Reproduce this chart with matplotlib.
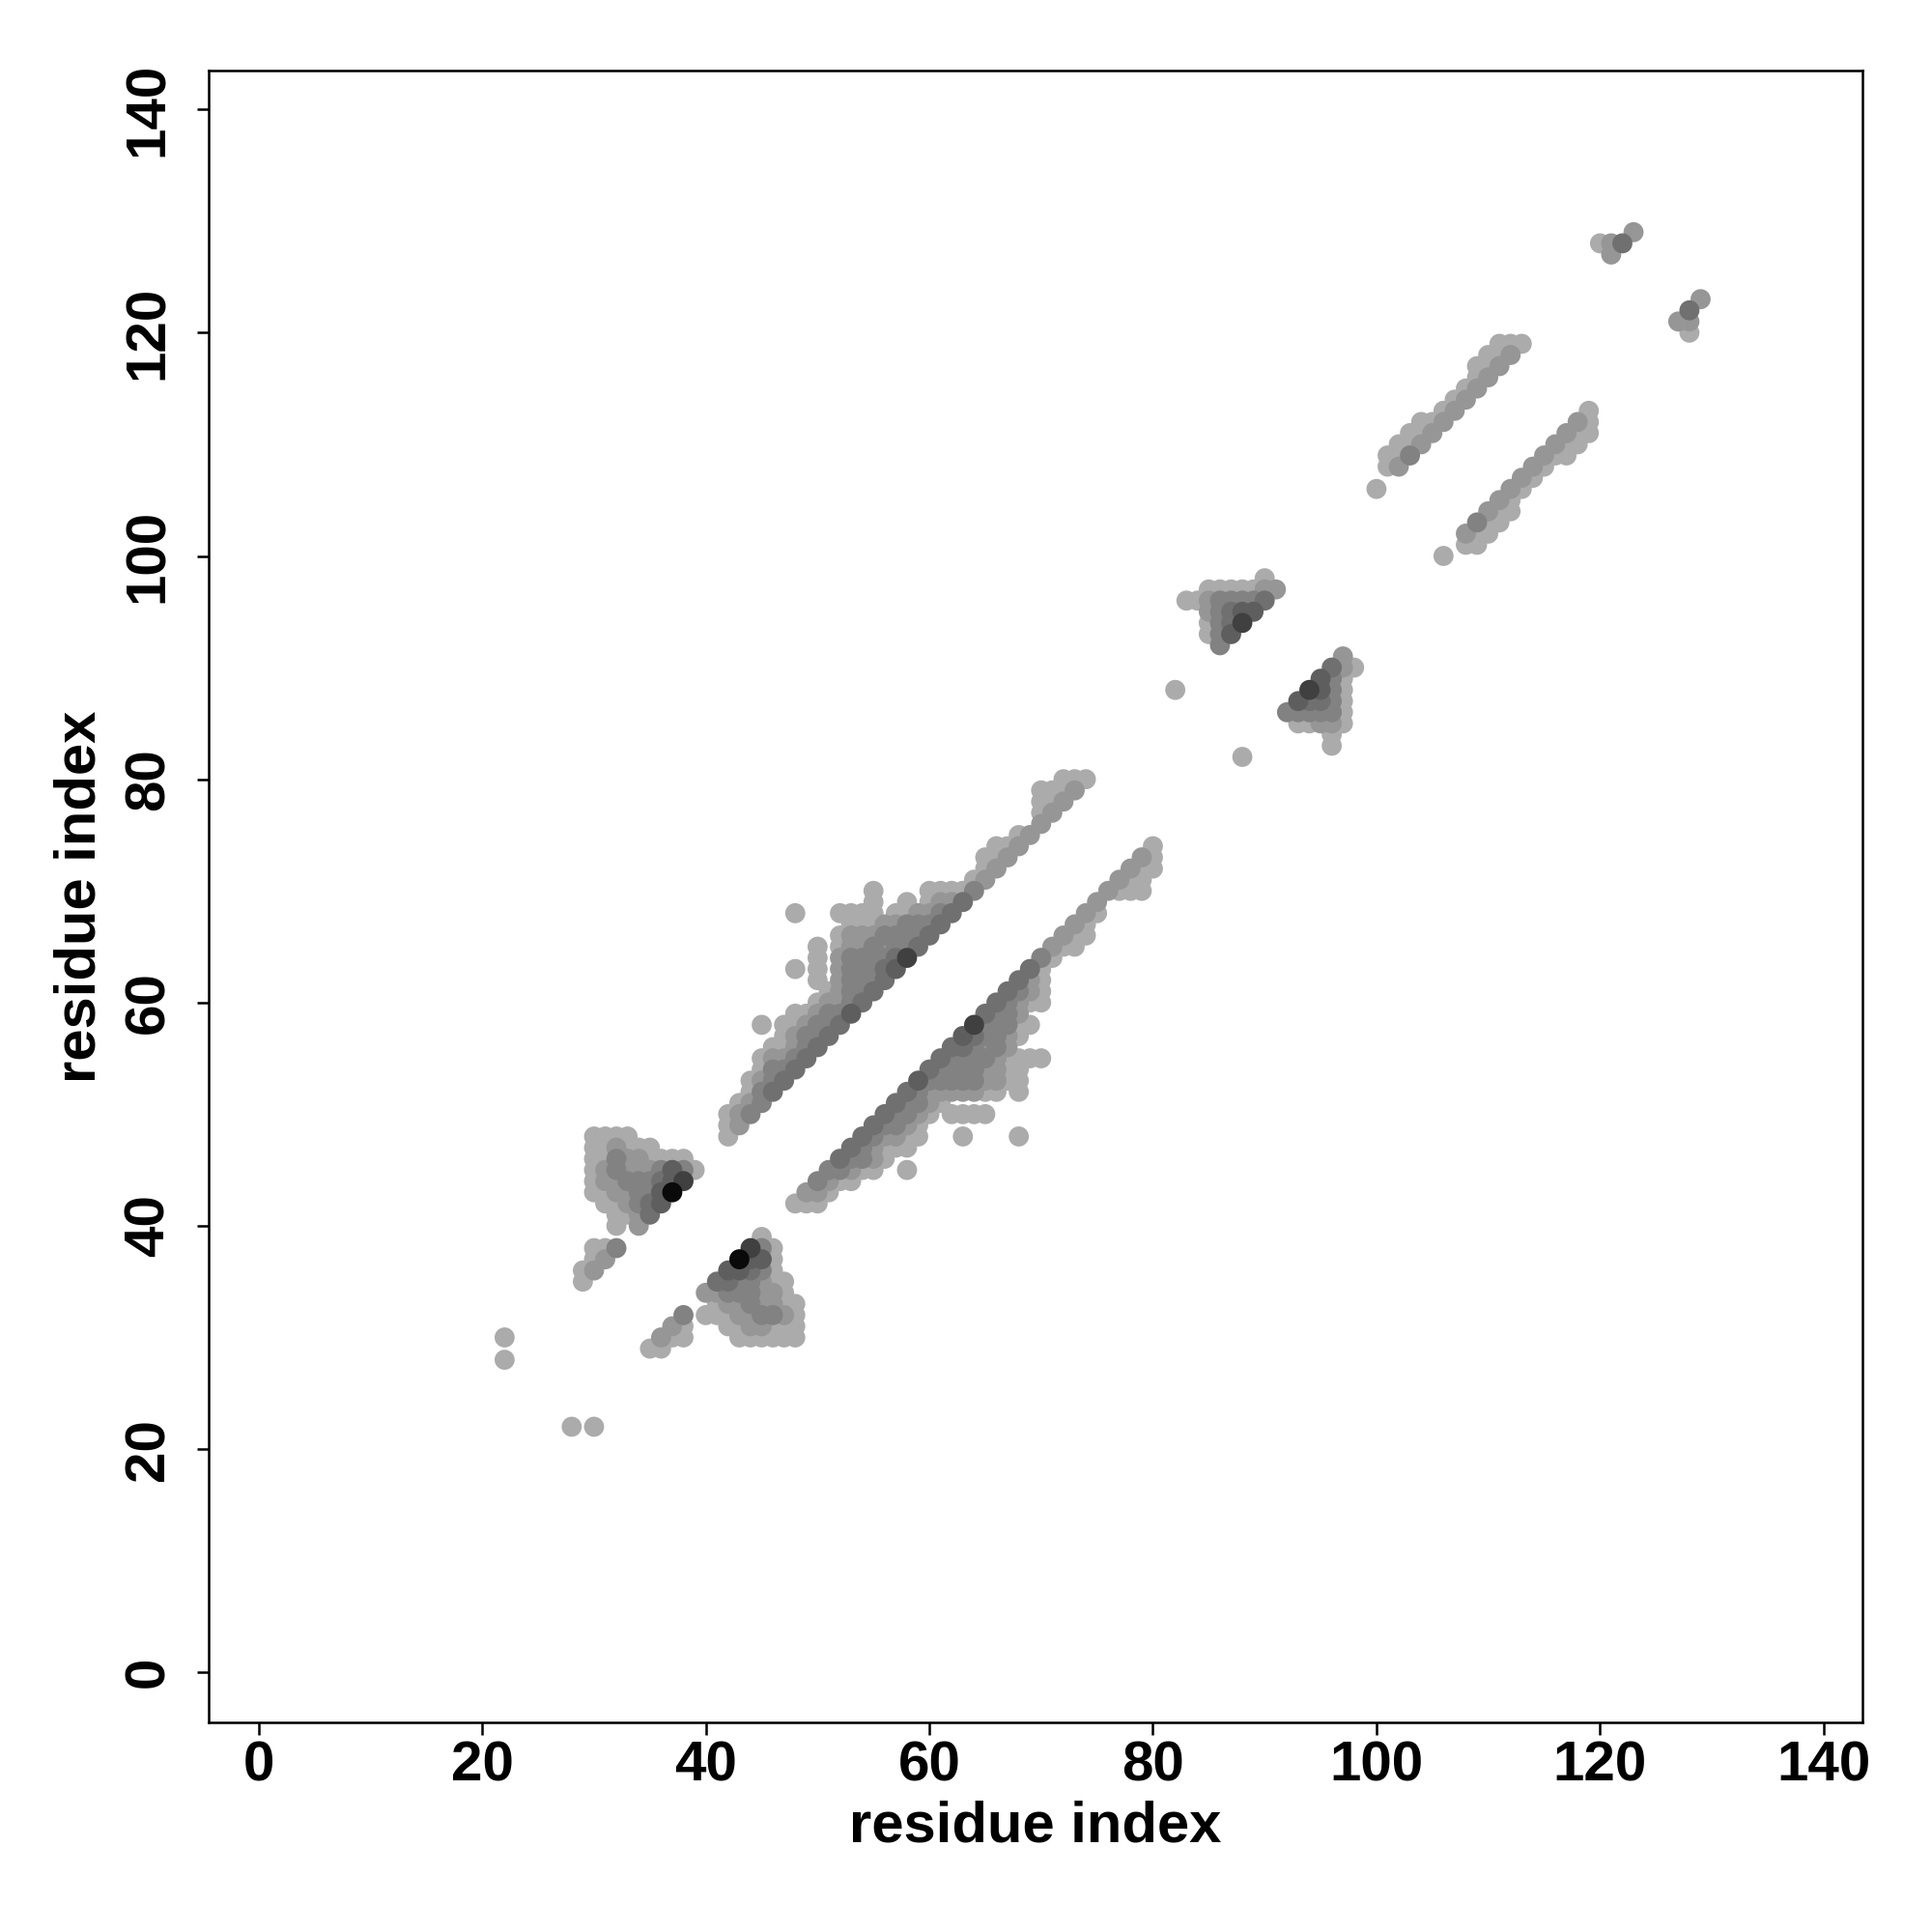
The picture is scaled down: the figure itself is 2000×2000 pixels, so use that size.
import matplotlib
matplotlib.use("Agg")
import matplotlib.pyplot as plt

# contact map, upper triangle only (y > x); the lower triangle is the mirror.
# each row: (y, first x, gray levels along x; '.' = no contact)
# level 1 = light gray ... 7 = almost black
rows_pair_a = [
    (30, 22, "1"),
    (28, 22, "1"),
]

rows_cluster_a = [
    (48, 30, "1111"),
    (47, 30, "112111"),
    (46, 30, "113221111"),
    (45, 30, "1232223531"),
    (44, 30, "122333456"),
    (43, 30, "11223357"),
    (42, 31, "112345"),
    (41, 32, "1124"),
    (40, 32, "1.2"),
    (38, 30, "113"),
    (37, 30, "12"),
    (36, 29, "12"),
    (35, 29, "1"),
]

rows_strip_a = [
    (80, 72, "111"),
    (79, 70, "1112"),
    (78, 70, "112"),
    (77, 70, "12"),
    (76, 70, "2"),
    (75, 68, "12"),
    (74, 66, "112"),
    (73, 65, "112"),
    (72, 65, "12"),
    (71, 64, "12"),
    (70, 55, "1....11113"),
    (69, 55, "1..1.1224"),
    (68, 48, "1...1111.112234"),
    (67, 53, "111223334"),
    (66, 52, "122233334"),
    (65, 50, "1.12232334"),
    (64, 50, "1.2333346"),
    (63, 48, "1.1.233345"),
    (62, 50, "1.23334"),
    (61, 51, "12334"),
    (60, 50, "12234"),
    (59, 48, "112335"),
    (58, 45, "1.112334"),
    (57, 47, "12334"),
    (56, 46, "11234"),
    (55, 45, "12234"),
    (54, 45, "1334"),
    (53, 44, "1234"),
    (52, 44, "134"),
    (51, 43, "123"),
    (50, 42, "123"),
    (49, 42, "12"),
    (48, 42, "1"),
]

rows_cluster_b = [
    (98, 90, "1"),
    (97, 85, "1111122"),
    (96, 83, "11233334"),
    (95, 85, "23455"),
    (94, 85, "1346"),
    (93, 85, "135"),
    (92, 86, "3"),
    (88, 82, "1"),
]

rows_strip_b = [
    (119, 111, "111"),
    (118, 110, "112"),
    (117, 109, "112"),
    (116, 109, "12"),
    (115, 108, "12"),
    (114, 107, "12"),
    (113, 106, "12"),
    (112, 104, "112"),
    (111, 103, "112"),
    (110, 102, "112"),
    (109, 101, "113"),
    (108, 101, "12"),
    (106, 100, "1"),
]

rows_pair_b = [
    (129, 123, "2"),
    (128, 120, "124"),
    (127, 121, "2"),
]

level_gray = {"1": 0.67, "2": 0.59, "3": 0.51, "4": 0.44, "5": 0.37, "6": 0.25, "7": 0.04}

all_rows = rows_pair_a + rows_cluster_a + rows_strip_a + rows_cluster_b + rows_strip_b + rows_pair_b

xs, ys, gs = [], [], []
for y, x0, levels in all_rows:
    for k, c in enumerate(levels):
        if c == ".":
            continue
        g = level_gray[c]
        # contact (i, j) and its mirror (j, i)
        xs += [x0 + k, y]
        ys += [y, x0 + k]
        gs += [g, g]

# draw light points first, dark ones on top
order = sorted(range(len(gs)), key=lambda i: -gs[i])
xs = [xs[i] for i in order]
ys = [ys[i] for i in order]
cols = [(gs[i], gs[i], gs[i]) for i in order]

plt.rcParams["font.family"] = ["Liberation Sans", "DejaVu Sans"]
plt.rcParams["font.weight"] = "bold"

fig = plt.figure(figsize=(10, 10), dpi=200)
ax = fig.add_axes([0.108, 0.1085, 0.856, 0.855])
ax.scatter(xs, ys, s=56, c=cols, linewidths=0)

lo, hi = 1 - 0.04 * 137, 138 + 0.04 * 137
ax.set_xlim(lo, hi)
ax.set_ylim(lo, hi)
ticks = list(range(0, 141, 20))
ax.set_xticks(ticks)
ax.set_yticks(ticks)
ax.tick_params(direction="out", length=4.5, width=0.9, labelsize=21, pad=2)
ax.tick_params(axis="y", pad=8)
for lab in ax.get_yticklabels():
    lab.set_rotation(90)
    lab.set_va("center")
for sp in ax.spines.values():
    sp.set_linewidth(0.9)
ax.set_xlabel("residue index", fontsize=21.5, fontweight="bold", labelpad=3)
ax.set_ylabel("residue index", fontsize=21.5, fontweight="bold", labelpad=6)

fig.savefig("out.png")
